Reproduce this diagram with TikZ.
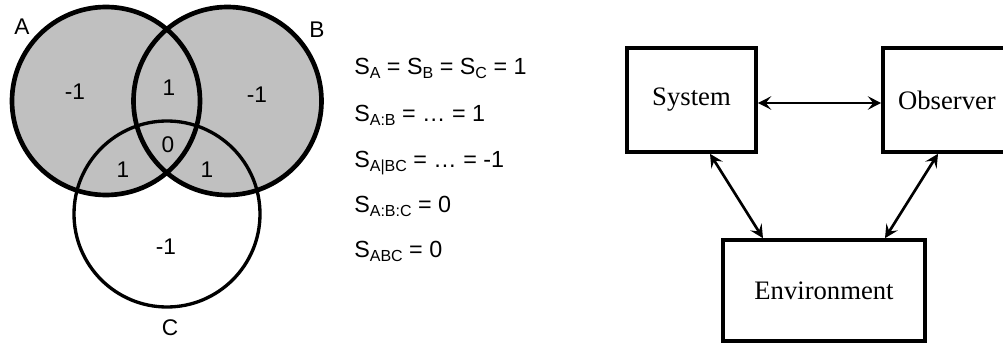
\documentclass[tikz,border=0pt]{standalone}
\usepackage{fontspec}
\setmainfont{Liberation Sans}
\newfontfamily\timesf{Liberation Serif}
\usetikzlibrary{arrows.meta,calc}
\definecolor{venngray}{HTML}{C0C0C0}
\newcommand\mysub[1]{\raisebox{-2.6pt}{\fontsize{12}{12}\selectfont #1}}
\tikzset{
  vlabel/.style={font=\fontsize{17}{20}\selectfont, inner sep=0pt},
  eqline/.style={font=\fontsize{17.5}{20}\selectfont, anchor=base west, inner sep=0pt},
  box/.style={draw, line width=2.7pt, font=\timesf\fontsize{20}{24}\selectfont, inner sep=0pt},
  link/.style={line width=2pt, {Stealth[length=10pt,width=10pt,inset=4pt]}-{Stealth[length=10pt,width=10pt,inset=4pt]}},
  thickcirc/.style={line width=3.5pt},
  thincirc/.style={line width=2.5pt}
}
\begin{document}
\begin{tikzpicture}[x=0.75pt,y=-0.75pt]
\useasboundingbox (0,0) rectangle (1003,345);
\clip (0,0) rectangle (1003,345);
% Venn diagram
\fill[venngray] (106,101) circle[radius=94*0.75pt];
\fill[venngray] (227.5,101) circle[radius=94*0.75pt];
\draw[thincirc] (167,214) circle[radius=93*0.75pt];
\draw[thickcirc] (106,101) circle[radius=94*0.75pt];
\draw[thickcirc] (227.5,101) circle[radius=94*0.75pt];
\node[vlabel] (lA) at (22,27) {A};
\node[vlabel] (lB) at (317,30) {B};
\node[vlabel] (lC) at (170,328) {C};
\node[vlabel] (rA) at (75,92) {-1};
\node[vlabel] (rAB) at (169,88) {1};
\node[vlabel] (rB) at (257,95) {-1};
\node[vlabel] (rABC) at (168,145) {0};
\node[vlabel] (rAC) at (123,170) {1};
\node[vlabel] (rBC) at (207,170) {1};
\node[vlabel] (rC) at (166,247) {-1};
% equations
\node[eqline] (e1) at (354,75) {S\mysub{A} = S\mysub{B} = S\mysub{C} = 1};
\node[eqline] (e2) at (354,122) {S\mysub{A:B} = … = 1};
\node[eqline] (e3) at (354,168) {S\mysub{A|BC} = … = -1};
\node[eqline] (e4) at (354,213) {S\mysub{A:B:C} = 0};
\node[eqline] (e5) at (354,258) {S\mysub{ABC} = 0};
% boxes
\node[box, minimum width=96.75pt, minimum height=78pt] (sys) at (691.5,100) {System};
\node[box, minimum width=96.75pt, minimum height=78pt] (obs) at (947.5,100) {};
\node[font=\timesf\fontsize{20}{24}\selectfont, inner sep=0pt] (obst) at (947,100) {Observer};
\node[box, minimum width=151.5pt, minimum height=75.75pt] (env) at (824,290.5) {Environment};
\draw[link] ($(sys.east)+(0,3)$) -- ($(obs.west)+(0,3)$);
\draw[link] ($(sys.south)+(18.5,0)$) -- ($(env.north)+(-61,0)$);
\draw[link] ($(obs.south)+(-9.5,0)$) -- ($(env.north)+(61,0)$);
\end{tikzpicture}
\end{document}
